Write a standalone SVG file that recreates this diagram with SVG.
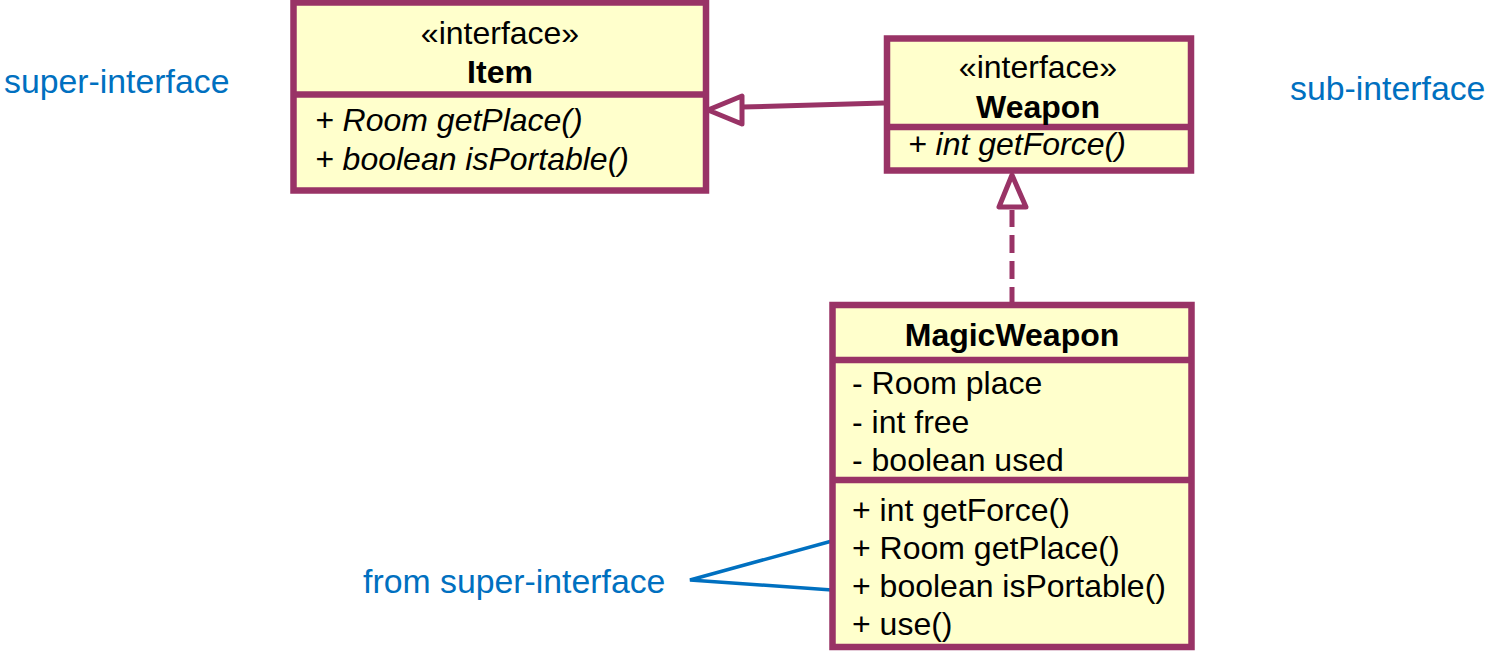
<svg xmlns="http://www.w3.org/2000/svg" width="1486" height="652" viewBox="0 0 1486 652">
<style>
.box{fill:#FFFFCC;stroke:#993366;stroke-width:6.5}
.div{stroke:#993366;stroke-width:6.5}
.t{font-family:"Liberation Sans",Arial,sans-serif;font-size:32px;fill:#000}
.c{text-anchor:middle}
.b{font-weight:bold}
.i{font-style:italic}
.lbl{font-family:"Liberation Sans",Arial,sans-serif;font-size:33.8px;fill:#0070C0}
.conn{stroke:#993366;stroke-width:5;fill:none}
.head{stroke:#993366;stroke-width:5;fill:#FFFFFF;stroke-linejoin:round}
.note{stroke:#0070C0;stroke-width:3.5;fill:none}
</style>
<rect width="1486" height="652" fill="#FFFFFF"/>
<g id="connectors">
<line class="conn" x1="884" y1="103" x2="742" y2="107"/>
<polygon class="head" points="708,110 742,96 742,124"/>
<line class="conn" x1="1012" y1="305" x2="1012" y2="210" stroke-dasharray="18,8"/>
<polygon class="head" points="1012,175 999,207 1026,207"/>
<polyline class="note" points="832,541 690,580 832,590"/>
</g>
<g id="Item">
<rect class="box" x="293.5" y="2.5" width="412.5" height="188"/>
<line class="div" x1="293.5" y1="94.5" x2="706" y2="94.5"/>
<text class="t c" x="500" y="44">«interface»</text>
<text class="t c b" x="500" y="83">Item</text>
<text class="t i" x="315" y="131">+ <tspan>Room getPlace()</tspan></text>
<text class="t i" x="315" y="170">+ <tspan>boolean isPortable()</tspan></text>
</g>
<g id="Weapon">
<rect class="box" x="887" y="38.5" width="304" height="132"/>
<line class="div" x1="887" y1="127" x2="1191" y2="127"/>
<text class="t c" x="1038" y="78">«interface»</text>
<text class="t c b" x="1038" y="118">Weapon</text>
<text class="t i" x="908" y="155">+ int getForce()</text>
</g>
<g id="MagicWeapon">
<rect class="box" x="832.5" y="305" width="359" height="342"/>
<line class="div" x1="832.5" y1="360" x2="1191.5" y2="360"/>
<line class="div" x1="832.5" y1="480" x2="1191.5" y2="480"/>
<text class="t c b" x="1012" y="346">MagicWeapon</text>
<text class="t" x="852" y="394">- Room place</text>
<text class="t" x="852" y="433">- int free</text>
<text class="t" x="852" y="471">- boolean used</text>
<text class="t" x="852" y="521">+ int getForce()</text>
<text class="t" x="852" y="559">+ Room getPlace()</text>
<text class="t" x="852" y="597">+ boolean isPortable()</text>
<text class="t" x="852" y="635">+ use()</text>
</g>
<g id="labels">
<text class="lbl" x="4" y="93">super-interface</text>
<text class="lbl" x="1290" y="100">sub-interface</text>
<text class="lbl" x="363" y="593">from super-interface</text>
</g>
</svg>
